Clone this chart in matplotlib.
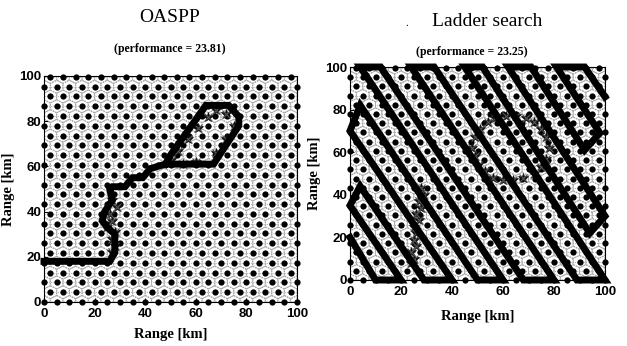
import numpy as np
import matplotlib.pyplot as plt
from matplotlib.collections import LineCollection

# lattice of sensor nodes (hexagonal, 5 km spacing)
node_spacing = 5.0
n_rows = 24

# OASPP path (km)
oaspp_x = [0, 26, 28, 28, 25, 23, 24, 27, 26, 27, 32, 35, 39, 42, 48, 67, 77, 77, 73, 64, 50, 48]
oaspp_y = [18, 18, 22, 30, 33, 36, 40, 45, 50, 51, 51, 55, 55, 59, 61, 61, 78, 82, 87, 87, 65, 61]

# ladder search path (km)
ladder_x = [0, 10, 20, 0, 4, 29, 40, 0, 4, 50, 60, 4, 12, 68, 80, 24, 33, 89, 100,
            45, 52, 94, 100, 62, 71, 92, 98, 81, 92, 100]
ladder_y = [20, 0, 0, 35, 44, 0, 0, 70, 82, 0, 0, 100, 100, 0, 0, 100, 100, 0, 0,
            100, 100, 22, 30, 100, 100, 61, 69, 100, 100, 86]

# target detections
tgt_left_x = [27, 29, 26, 27, 25, 28, 27, 28, 27, 50, 53, 57, 61, 65, 68, 72, 75, 72, 68, 60, 55]
tgt_left_y = [45, 42, 39, 36, 33, 31, 28, 25, 22, 63, 67, 72, 77, 82, 85, 83, 78, 72, 66, 62, 61]
tgt_right_x = [48, 49, 51, 54, 57, 61, 65, 69, 72, 75, 77, 78, 77, 75, 72, 68, 64, 60, 56, 53, 50, 49,
               28, 29, 27, 28, 26, 27, 25, 26, 25, 26, 24, 25, 24]
tgt_right_y = [62, 67, 71, 74, 76, 77, 77, 76, 74, 71, 67, 62, 57, 53, 50, 48, 47, 47, 48, 51, 54, 58,
               43, 40, 37, 34, 31, 28, 25, 22, 19, 16, 13, 10, 8]

titles = ['OASPP', 'Ladder search']
perf = [23.81, 23.25]
ticks = [0, 20, 40, 60, 80, 100]

# node coordinates
node_x, node_y = [], []
for j in range(n_rows):
    off = 0 if j % 2 == 0 else node_spacing / 2
    xs = np.arange(off, 100.01, node_spacing)
    node_x += list(xs)
    node_y += [j * node_spacing * np.sqrt(3) / 2] * len(xs)
node_x = np.array(node_x)
node_y = np.array(node_y)


def draw_mesh(ax):
    r = node_spacing / np.sqrt(3)
    ang = np.deg2rad([30, 90, 150, 210, 270, 330, 30])
    segs = []
    for x, y in zip(node_x, node_y):
        hx = np.clip(x + r * np.cos(ang), 0, 100)
        hy = np.clip(y + r * np.sin(ang), 0, 100)
        segs.append(np.column_stack([hx, hy]))
    ax.add_collection(LineCollection(segs, colors='#a6a6a6', linewidths=0.75,
                                     linestyles=(0, (1.5, 1)), zorder=1))
    rows = []
    for y in np.unique(node_y):
        rows.append([(0, y), (100, y)])
    ax.add_collection(LineCollection(rows, colors='#b4b4b4', linewidths=0.8,
                                     linestyles=(0, (1, 1)), zorder=1))


fig = plt.figure(figsize=(6.27, 3.46), dpi=100)
W, H = 627, 346
boxes = [(44, 76, 297, 302), (350, 67, 605, 280)]
paths = [(oaspp_x, oaspp_y), (ladder_x, ladder_y)]
targets = [(tgt_left_x, tgt_left_y), (tgt_right_x, tgt_right_y)]
xlab_pad = [6, 9]

for i in range(2):
    l, t, r, b = boxes[i]
    ax = fig.add_axes([l / W, 1 - b / H, (r - l) / W, (b - t) / H])
    draw_mesh(ax)
    ax.plot(node_x, node_y, 'o', color='black', ms=4.5, mew=0, zorder=3, clip_on=False)
    ax.plot(targets[i][0], targets[i][1], '*', color='#111111', ms=7, mew=0.5,
            zorder=4, clip_on=False)
    ax.plot(targets[i][0], targets[i][1], 'x', color='#555555', ms=6, mew=0.8,
            zorder=4, clip_on=False)
    ax.plot(paths[i][0], paths[i][1], '-', color='black', lw=5, solid_joinstyle='miter',
            zorder=5, clip_on=False)
    ax.set_xlim(0, 100)
    ax.set_ylim(0, 100)
    ax.set_xticks(ticks)
    ax.set_yticks(ticks)
    ax.tick_params(direction='in', length=3, width=0.8)
    ax.tick_params(axis='x', pad=4)
    ax.tick_params(axis='y', pad=2)
    for lab in ax.get_xticklabels() + ax.get_yticklabels():
        lab.set_fontfamily('Liberation Sans')
        lab.set_fontweight('bold')
        lab.set_fontsize(9.5)
    for s in ax.spines.values():
        s.set_linewidth(0.8)
    ax.set_xlabel('Range [km]', family='Liberation Serif', weight='bold', fontsize=10.5,
                  labelpad=xlab_pad[i])
    ax.set_ylabel('Range [km]', family='Liberation Serif', weight='bold', fontsize=10.5, labelpad=3)

fig.text(170 / W, 1 - 18 / H, titles[0], family='Liberation Serif', fontsize=14,
         ha='center', va='center')
fig.text(170 / W, 1 - 49 / H, '(performance = %.2f)' % perf[0], family='Liberation Serif',
         weight='bold', fontsize=8.5, ha='center', va='center')
fig.text(487 / W, 1 - 22 / H, titles[1], family='Liberation Serif', fontsize=14,
         ha='center', va='center')
fig.text(407 / W, 1 - 24 / H, '.', family='Liberation Serif', fontsize=8,
         ha='center', va='center')
fig.text(472 / W, 1 - 52 / H, '(performance = %.2f)' % perf[1], family='Liberation Serif',
         weight='bold', fontsize=8.5, ha='center', va='center')

fig.savefig('out.png', dpi=100)
